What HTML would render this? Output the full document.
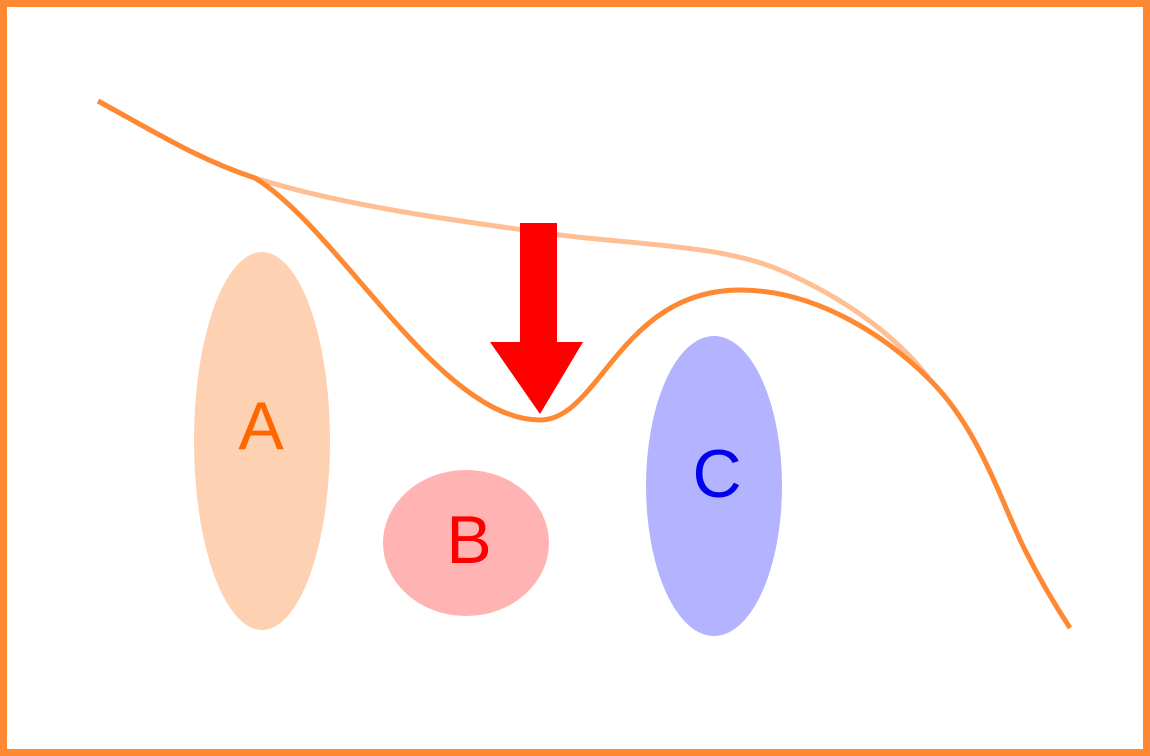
<!DOCTYPE html>
<html><head><meta charset="utf-8"><style>
html,body{margin:0;padding:0;background:#fff}
svg{display:block}
</style></head><body>
<svg width="1150" height="756" viewBox="0 0 1150 756" xmlns="http://www.w3.org/2000/svg">
<rect x="3.5" y="3.5" width="1143" height="749" fill="#fff" stroke="#ff8833" stroke-width="7"/>
<ellipse cx="262" cy="441" rx="68" ry="189" fill="#fdd1b2"/>
<ellipse cx="466" cy="543" rx="83" ry="73" fill="#ffb3b3"/>
<ellipse cx="714" cy="486" rx="68" ry="150" fill="#b3b3ff"/>
<text x="261" y="431" font-family="Liberation Sans, sans-serif" font-size="68" fill="#ff6600" text-anchor="middle" dominant-baseline="middle">A</text>
<text x="469" y="545" font-family="Liberation Sans, sans-serif" font-size="68" fill="#ff0000" text-anchor="middle" dominant-baseline="middle">B</text>
<text x="717" y="479" font-family="Liberation Sans, sans-serif" font-size="68" fill="#0000ee" text-anchor="middle" dominant-baseline="middle">C</text>
<path d="M98,101 C160,135 200,160 255,178 C340,205 450,220 560,235 C640,245 720,245 780,270 C850,300 900,340 930,380" fill="none" stroke="#ffbf94" stroke-width="5"/>
<path d="M98,101 C160,135 200,160 255,178 C340,230 440,420 540,420 C600,420 620,290 740,290 C820,290 890,340 930,380 C980,430 1000,500 1025,550 C1040,580 1055,605 1070,628" fill="none" stroke="#ff8833" stroke-width="5"/>
<rect x="520" y="223" width="37" height="120" fill="#ff0000"/>
<polygon points="490,342 583,342 540,414" fill="#ff0000"/>
</svg>
</body></html>
